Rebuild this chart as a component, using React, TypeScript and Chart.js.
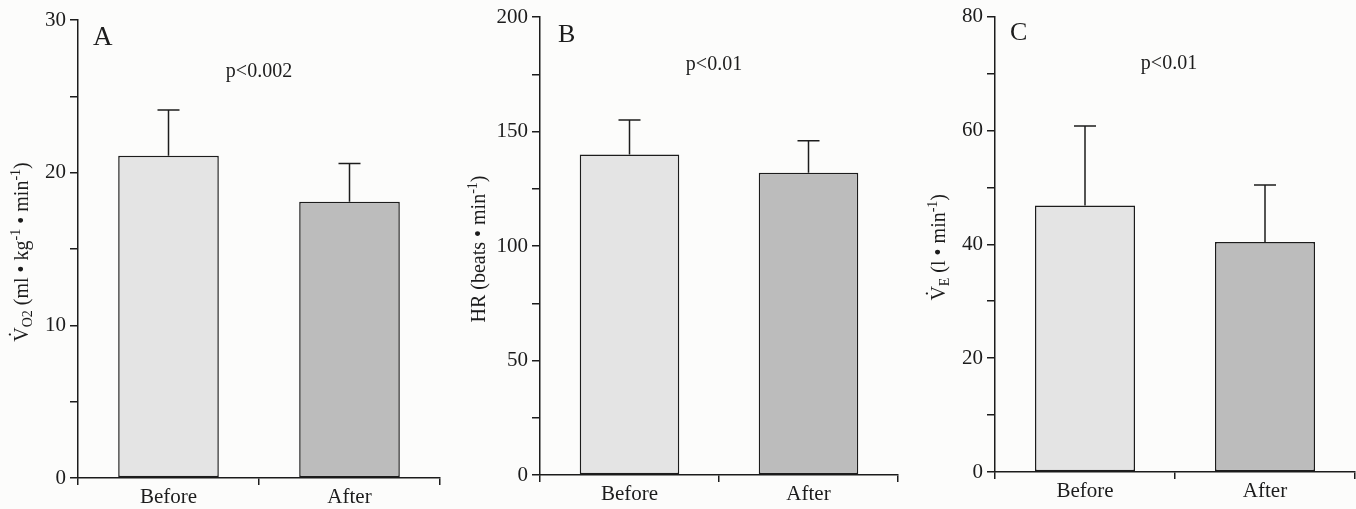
import React, { useEffect, useRef } from 'react';
import { Chart, registerables } from 'chart.js';

Chart.register(...registerables);

// ---------- data ----------
const categories = ['Before', 'After'];

const vo2Means = [21.1, 18.1];
const vo2Errors = [3.0, 2.5];
const vo2TickLabels = [0, 10, 20, 30];

const hrMeans = [140, 132];
const hrErrors = [15, 14];
const hrTickLabels = [0, 50, 100, 150, 200];

const veMeans = [46.8, 40.4];
const veErrors = [14.0, 10.0];
const veTickLabels = [0, 20, 40, 60, 80];

const panelLetters = ['A', 'B', 'C'];
const pValues = ['p<0.002', 'p<0.01', 'p<0.01'];

type Seg = { t: string; kind?: 'sub' | 'sup' | 'dotV' };

const vo2Title: Seg[] = [
  { t: 'V', kind: 'dotV' },
  { t: 'O2', kind: 'sub' },
  { t: ' (ml \u2022 kg' },
  { t: '-1', kind: 'sup' },
  { t: ' \u2022 min' },
  { t: '-1', kind: 'sup' },
  { t: ')' },
];
const hrTitle: Seg[] = [
  { t: 'HR (beats \u2022 min' },
  { t: '-1', kind: 'sup' },
  { t: ')' },
];
const veTitle: Seg[] = [
  { t: 'V', kind: 'dotV' },
  { t: 'E', kind: 'sub' },
  { t: ' (l \u2022 min' },
  { t: '-1', kind: 'sup' },
  { t: ')' },
];

const FONT = '"Liberation Serif", "Times New Roman", serif';
const INK = '#1c1c1c';
const BEFORE_FILL = '#e4e4e4';
const AFTER_FILL = '#bcbcbc';
const TICK_SIZE = 21;

interface PanelCfg {
  means: number[];
  errors: number[];
  tickLabels: number[];
  max: number;
  step: number;
  letter: string;
  pText: string;
  title: Seg[];
  // layout
  left: number;
  width: number;
  yAxisWidth: number;
  padRight: number;
  padTop: number;
  xAxisHeight: number;
  titleX: number;
  letterDX: number;
  letterDY: number;
  letterSize: number;
  pDX: number;
  pDY: number;
}

function drawRich(ctx: CanvasRenderingContext2D, segs: Seg[], cx: number, cy: number) {
  const main = 20;
  const small = 14;
  const sizeOf = (s: Seg) => (s.kind === 'sub' || s.kind === 'sup' ? small : main);
  const dyOf = (s: Seg) => (s.kind === 'sub' ? 4 : s.kind === 'sup' ? -8 : 0);
  ctx.save();
  ctx.translate(cx, cy);
  ctx.rotate(-Math.PI / 2);
  let total = 0;
  const widths: number[] = [];
  segs.forEach((s) => {
    ctx.font = `${sizeOf(s)}px ${FONT}`;
    const w = ctx.measureText(s.t).width;
    widths.push(w);
    total += w;
  });
  let x = -total / 2;
  const base = 7;
  ctx.fillStyle = INK;
  ctx.textBaseline = 'alphabetic';
  segs.forEach((s, i) => {
    ctx.font = `${sizeOf(s)}px ${FONT}`;
    ctx.textAlign = 'left';
    ctx.fillText(s.t, x, base + dyOf(s));
    if (s.kind === 'dotV') {
      ctx.textAlign = 'center';
      ctx.fillText('\u02D9', x + widths[i] / 2, base - 5);
    }
    x += widths[i];
  });
  ctx.restore();
}

function Panel({ cfg }: { cfg: PanelCfg }) {
  const ref = useRef<HTMLCanvasElement | null>(null);
  useEffect(() => {
    const canvas = ref.current;
    if (!canvas) return;

    const errorBars = {
      id: 'errorBars',
      afterDatasetsDraw(chart: any) {
        const ctx = chart.ctx as CanvasRenderingContext2D;
        const meta = chart.getDatasetMeta(0);
        const ys = chart.scales.y;
        ctx.save();
        ctx.strokeStyle = INK;
        ctx.lineWidth = 1.5;
        meta.data.forEach((bar: any, i: number) => {
          const x = bar.x;
          const yBar = ys.getPixelForValue(cfg.means[i]);
          const yTop = ys.getPixelForValue(cfg.means[i] + cfg.errors[i]);
          ctx.beginPath();
          ctx.moveTo(x, yBar);
          ctx.lineTo(x, yTop);
          ctx.moveTo(x - 11, yTop);
          ctx.lineTo(x + 11, yTop);
          ctx.stroke();
        });
        ctx.restore();
      },
    };

    const annotations = {
      id: 'annotations',
      afterDraw(chart: any) {
        const ctx = chart.ctx as CanvasRenderingContext2D;
        const area = chart.chartArea;
        const meta = chart.getDatasetMeta(0);
        ctx.save();
        ctx.fillStyle = INK;
        ctx.textBaseline = 'alphabetic';
        ctx.textAlign = 'left';
        ctx.font = `${cfg.letterSize}px ${FONT}`;
        ctx.fillText(cfg.letter, area.left + cfg.letterDX, area.top + cfg.letterDY);
        ctx.textAlign = 'center';
        ctx.font = `20px ${FONT}`;
        const mid = (meta.data[0].x + meta.data[1].x) / 2;
        ctx.fillText(cfg.pText, mid + cfg.pDX, area.top + cfg.pDY);
        ctx.restore();
        drawRich(ctx, cfg.title, cfg.titleX, (area.top + area.bottom) / 2 + 3);
      },
    };

    const chart = new Chart(canvas, {
      type: 'bar',
      data: {
        labels: categories,
        datasets: [
          {
            data: cfg.means,
            backgroundColor: [BEFORE_FILL, AFTER_FILL],
            borderColor: INK,
            borderWidth: 1.5,
            borderSkipped: false,
            barPercentage: 0.556,
            categoryPercentage: 1,
          },
        ],
      },
      options: {
        animation: false,
        responsive: false,
        devicePixelRatio: 1,
        events: [],
        layout: { padding: { left: 0, right: cfg.padRight, top: cfg.padTop, bottom: 0 } },
        plugins: { legend: { display: false }, tooltip: { enabled: false }, title: { display: false } },
        scales: {
          x: {
            offset: true,
            grid: {
              display: true,
              drawOnChartArea: false,
              drawTicks: true,
              tickLength: 7,
              color: INK,
              lineWidth: 1.5,
              offset: true,
            },
            border: { display: true, color: INK, width: 1.5 },
            ticks: { color: INK, font: { family: FONT, size: TICK_SIZE }, padding: 0 },
            afterFit: (s: any) => {
              s.height = cfg.xAxisHeight;
            },
          },
          y: {
            min: 0,
            max: cfg.max,
            grid: {
              display: true,
              drawOnChartArea: false,
              drawTicks: true,
              tickLength: 8,
              color: INK,
              lineWidth: 1.5,
            },
            border: { display: true, color: INK, width: 1.5 },
            ticks: {
              stepSize: cfg.step,
              autoSkip: false,
              color: INK,
              padding: 4,
              font: { family: FONT, size: TICK_SIZE },
              callback: (v: any) => (cfg.tickLabels.includes(Number(v)) ? String(v) : ''),
            },
            afterFit: (s: any) => {
              s.width = cfg.yAxisWidth;
            },
          },
        },
      },
      plugins: [errorBars, annotations],
    });
    return () => chart.destroy();
  }, [cfg]);

  return (
    <canvas
      ref={ref}
      width={cfg.width}
      height={509}
      style={{ position: 'absolute', left: cfg.left, top: 0, width: cfg.width, height: 509 }}
    />
  );
}

const panels: PanelCfg[] = [
  {
    means: vo2Means, errors: vo2Errors, tickLabels: vo2TickLabels, max: 30, step: 5,
    letter: panelLetters[0], pText: pValues[0], title: vo2Title,
    left: 0, width: 452, yAxisWidth: 78, padRight: 12, padTop: 20, xAxisHeight: 31,
    titleX: 21, letterDX: 15, letterDY: 25, letterSize: 27, pDX: 0, pDY: 57,
  },
  {
    means: hrMeans, errors: hrErrors, tickLabels: hrTickLabels, max: 200, step: 25,
    letter: panelLetters[1], pText: pValues[1], title: hrTitle,
    left: 455, width: 450, yAxisWidth: 85, padRight: 7, padTop: 17, xAxisHeight: 34,
    titleX: 23, letterDX: 18, letterDY: 25, letterSize: 26, pDX: -5, pDY: 53,
  },
  {
    means: veMeans, errors: veErrors, tickLabels: veTickLabels, max: 80, step: 10,
    letter: panelLetters[2], pText: pValues[2], title: veTitle,
    left: 908, width: 448, yAxisWidth: 87, padRight: 1, padTop: 16, xAxisHeight: 37,
    titleX: 30, letterDX: 15, letterDY: 23, letterSize: 26, pDX: -6, pDY: 52,
  },
];

export default function App() {
  return (
    <div
      style={{
        position: 'fixed',
        left: 0,
        top: 0,
        width: 1356,
        height: 509,
        background: '#fcfcfb',
        overflow: 'hidden',
      }}
    >
      {panels.map((p, i) => (
        <Panel key={i} cfg={p} />
      ))}
    </div>
  );
}
